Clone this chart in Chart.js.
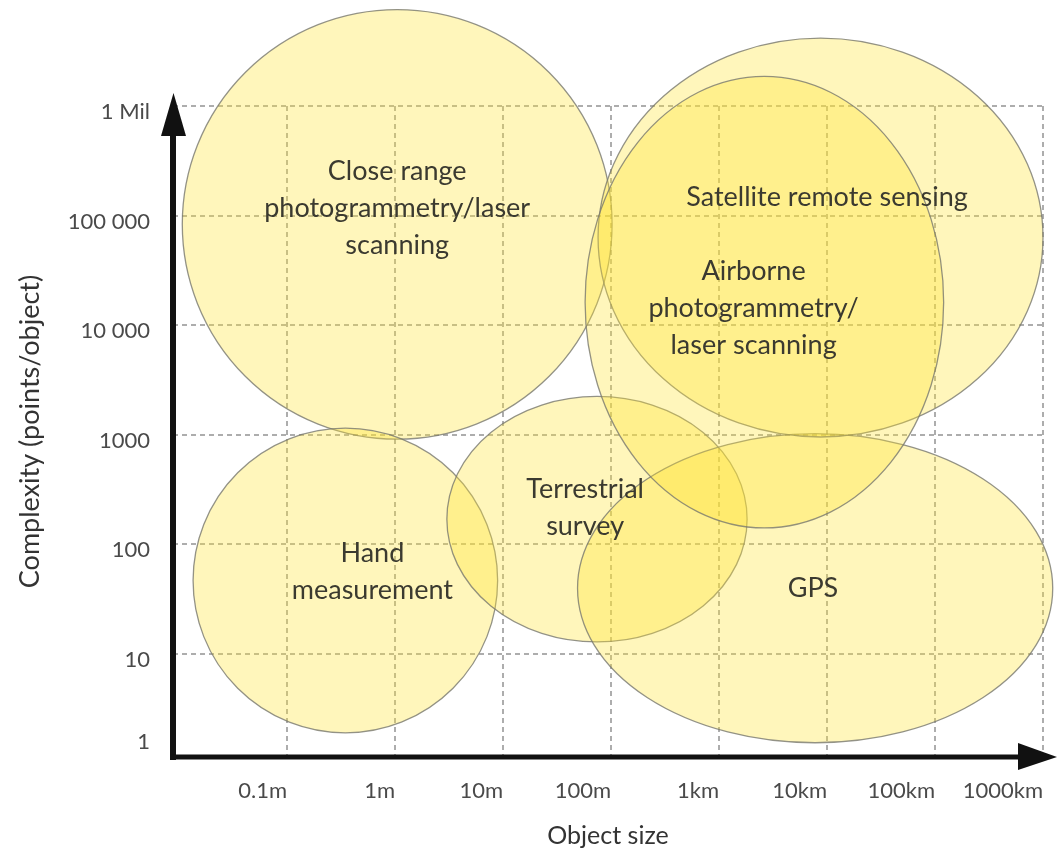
<!DOCTYPE html>
<html lang="en">
<head>
    <meta charset="UTF-8">
    <title>Object size vs complexity</title>
    <script src="https://cdn.jsdelivr.net/npm/chart.js"></script>
    <style>
        html, body {
            margin: 0;
            background: #fff;
        }
        #wrap {
            width: 1057px;
            height: 856px;
        }
    </style>
</head>
<body>
    <div id="wrap"><canvas id="chart"></canvas></div>
    <script>
        // tick labels (x: log10 of metres, from 0.1m; y: log10 of points, from 1)
        const xTickLabels = ['0.1m', '1m', '10m', '100m', '1km', '10km', '100km', '1000km'];
        const yTickLabels = ['1', '10', '100', '1000', '10 000', '100 000', '1 Mil'];

        // regions, in decades: centre, half-width, half-height
        const regionNames = [
            ['Close range', 'photogrammetry/laser', 'scanning'],
            ['Hand', 'measurement'],
            ['Terrestrial', 'survey'],
            ['GPS'],
            ['Satellite remote sensing'],
            ['Airborne', 'photogrammetry/', 'laser scanning']
        ];
        const centerX = [0.02, -0.46, 1.87, 3.89, 3.94, 3.42];
        const centerY = [4.92, 1.67, 2.23, 1.60, 4.80, 4.21];
        const spanX = [1.99, 1.41, 1.39, 2.20, 2.06, 1.66];
        const spanY = [1.96, 1.39, 1.12, 1.41, 1.82, 2.06];
        const labelX = [0.02, -0.21, 1.76, 3.87, 4.00, 3.32];
        const labelY = [5.07, 1.75, 2.33, 1.60, 5.17, 4.15];

        const points = regionNames.map((n, i) => ({
            x: centerX[i], y: centerY[i], rx: spanX[i], ry: spanY[i],
            lx: labelX[i], ly: labelY[i], name: n
        }));

        const ellipsePlugin = {
            id: 'ellipses',
            beforeDatasetsDraw(chart) {
                const c = chart.ctx;
                const xs = chart.scales.x, ys = chart.scales.y;
                c.save();
                points.forEach(p => {
                    const cx = xs.getPixelForValue(p.x);
                    const cy = ys.getPixelForValue(p.y);
                    const rx = Math.abs(xs.getPixelForValue(p.x + p.rx) - cx);
                    const ry = Math.abs(ys.getPixelForValue(p.y + p.ry) - cy);
                    c.beginPath();
                    c.ellipse(cx, cy, rx, ry, 0, 0, Math.PI * 2);
                    c.fillStyle = 'rgba(255, 228, 50, 0.33)';
                    c.fill();
                    c.lineWidth = 1.3;
                    c.strokeStyle = 'rgba(120, 120, 110, 0.8)';
                    c.stroke();
                });
                c.fillStyle = '#3b3a30';
                c.font = '27px Lato';
                c.textAlign = 'center';
                c.textBaseline = 'middle';
                points.forEach(p => {
                    const lx = xs.getPixelForValue(p.lx);
                    const ly = ys.getPixelForValue(p.ly);
                    const n = p.name.length;
                    p.name.forEach((line, k) => {
                        c.fillText(line, lx, ly + (k - (n - 1) / 2) * 37);
                    });
                });
                c.restore();
            },
            afterDraw(chart) {
                const c = chart.ctx;
                const a = chart.chartArea;
                c.save();
                c.fillStyle = '#111';
                // y axis with arrow
                c.fillRect(a.left - 3, a.top + 29, 6, a.bottom - a.top - 26);
                c.beginPath();
                c.moveTo(a.left - 12, a.top + 30);
                c.lineTo(a.left + 13, a.top + 30);
                c.lineTo(a.left + 0.5, a.top - 13);
                c.closePath();
                c.fill();
                // x axis with arrow
                c.fillRect(a.left - 3, a.bottom - 2.5, a.right - a.left - 20, 5);
                c.beginPath();
                c.moveTo(a.right - 25, a.bottom - 14);
                c.lineTo(a.right - 25, a.bottom + 13);
                c.lineTo(a.right + 14, a.bottom);
                c.closePath();
                c.fill();
                c.restore();
            }
        };

        const gridStyle = {
            color: ctx => (ctx.tick && ctx.tick.hide) ? 'rgba(0,0,0,0)' : '#adadad',
            lineWidth: 2,
            drawTicks: false
        };

        new Chart(document.getElementById('chart'), {
            type: 'scatter',
            data: {
                datasets: [{
                    data: points,
                    pointRadius: 0,
                    pointHoverRadius: 0
                }]
            },
            options: {
                responsive: true,
                maintainAspectRatio: false,
                animation: false,
                events: [],
                layout: { padding: { top: 106, right: 14, left: 0, bottom: 0 } },
                plugins: { legend: { display: false }, tooltip: { enabled: false } },
                scales: {
                    x: {
                        type: 'linear',
                        min: -2.056,
                        max: 6,
                        border: { display: false, dash: [5, 4] },
                        grid: gridStyle,
                        afterFit: s => {
                            s.height = 99;
                            s.paddingLeft = 0;
                            s.paddingRight = 0;
                        },
                        afterBuildTicks: s => {
                            s.ticks = xTickLabels.map((l, i) => ({ value: i - 1, label: l }));
                        },
                        ticks: {
                            align: 'end',
                            padding: 21,
                            color: '#4a4a4a',
                            font: { family: 'Lato', size: 22 },
                            callback: (v, i) => xTickLabels[i]
                        },
                        title: {
                            display: true,
                            text: 'Object size',
                            color: '#333',
                            font: { family: 'Lato', size: 25 },
                            padding: { top: 0, bottom: 5 }
                        }
                    },
                    y: {
                        type: 'linear',
                        min: 0.06,
                        max: 6,
                        border: { display: false, dash: [5, 4] },
                        grid: gridStyle,
                        afterFit: s => { s.width = 173; },
                        afterBuildTicks: s => {
                            s.ticks = yTickLabels.map((l, i) => ({
                                value: i === 0 ? 0.25 : i, label: l, hide: i === 0
                            }));
                        },
                        ticks: {
                            padding: 23,
                            labelOffset: 6,
                            color: '#4a4a4a',
                            font: { family: 'Lato', size: 22 },
                            callback: (v, i) => yTickLabels[i]
                        },
                        title: {
                            display: true,
                            text: 'Complexity (points/object)',
                            color: '#333',
                            font: { family: 'Lato', size: 27 },
                            padding: { top: 14, bottom: 0 }
                        }
                    }
                }
            },
            plugins: [ellipsePlugin]
        });
    </script>
</body>
</html>
